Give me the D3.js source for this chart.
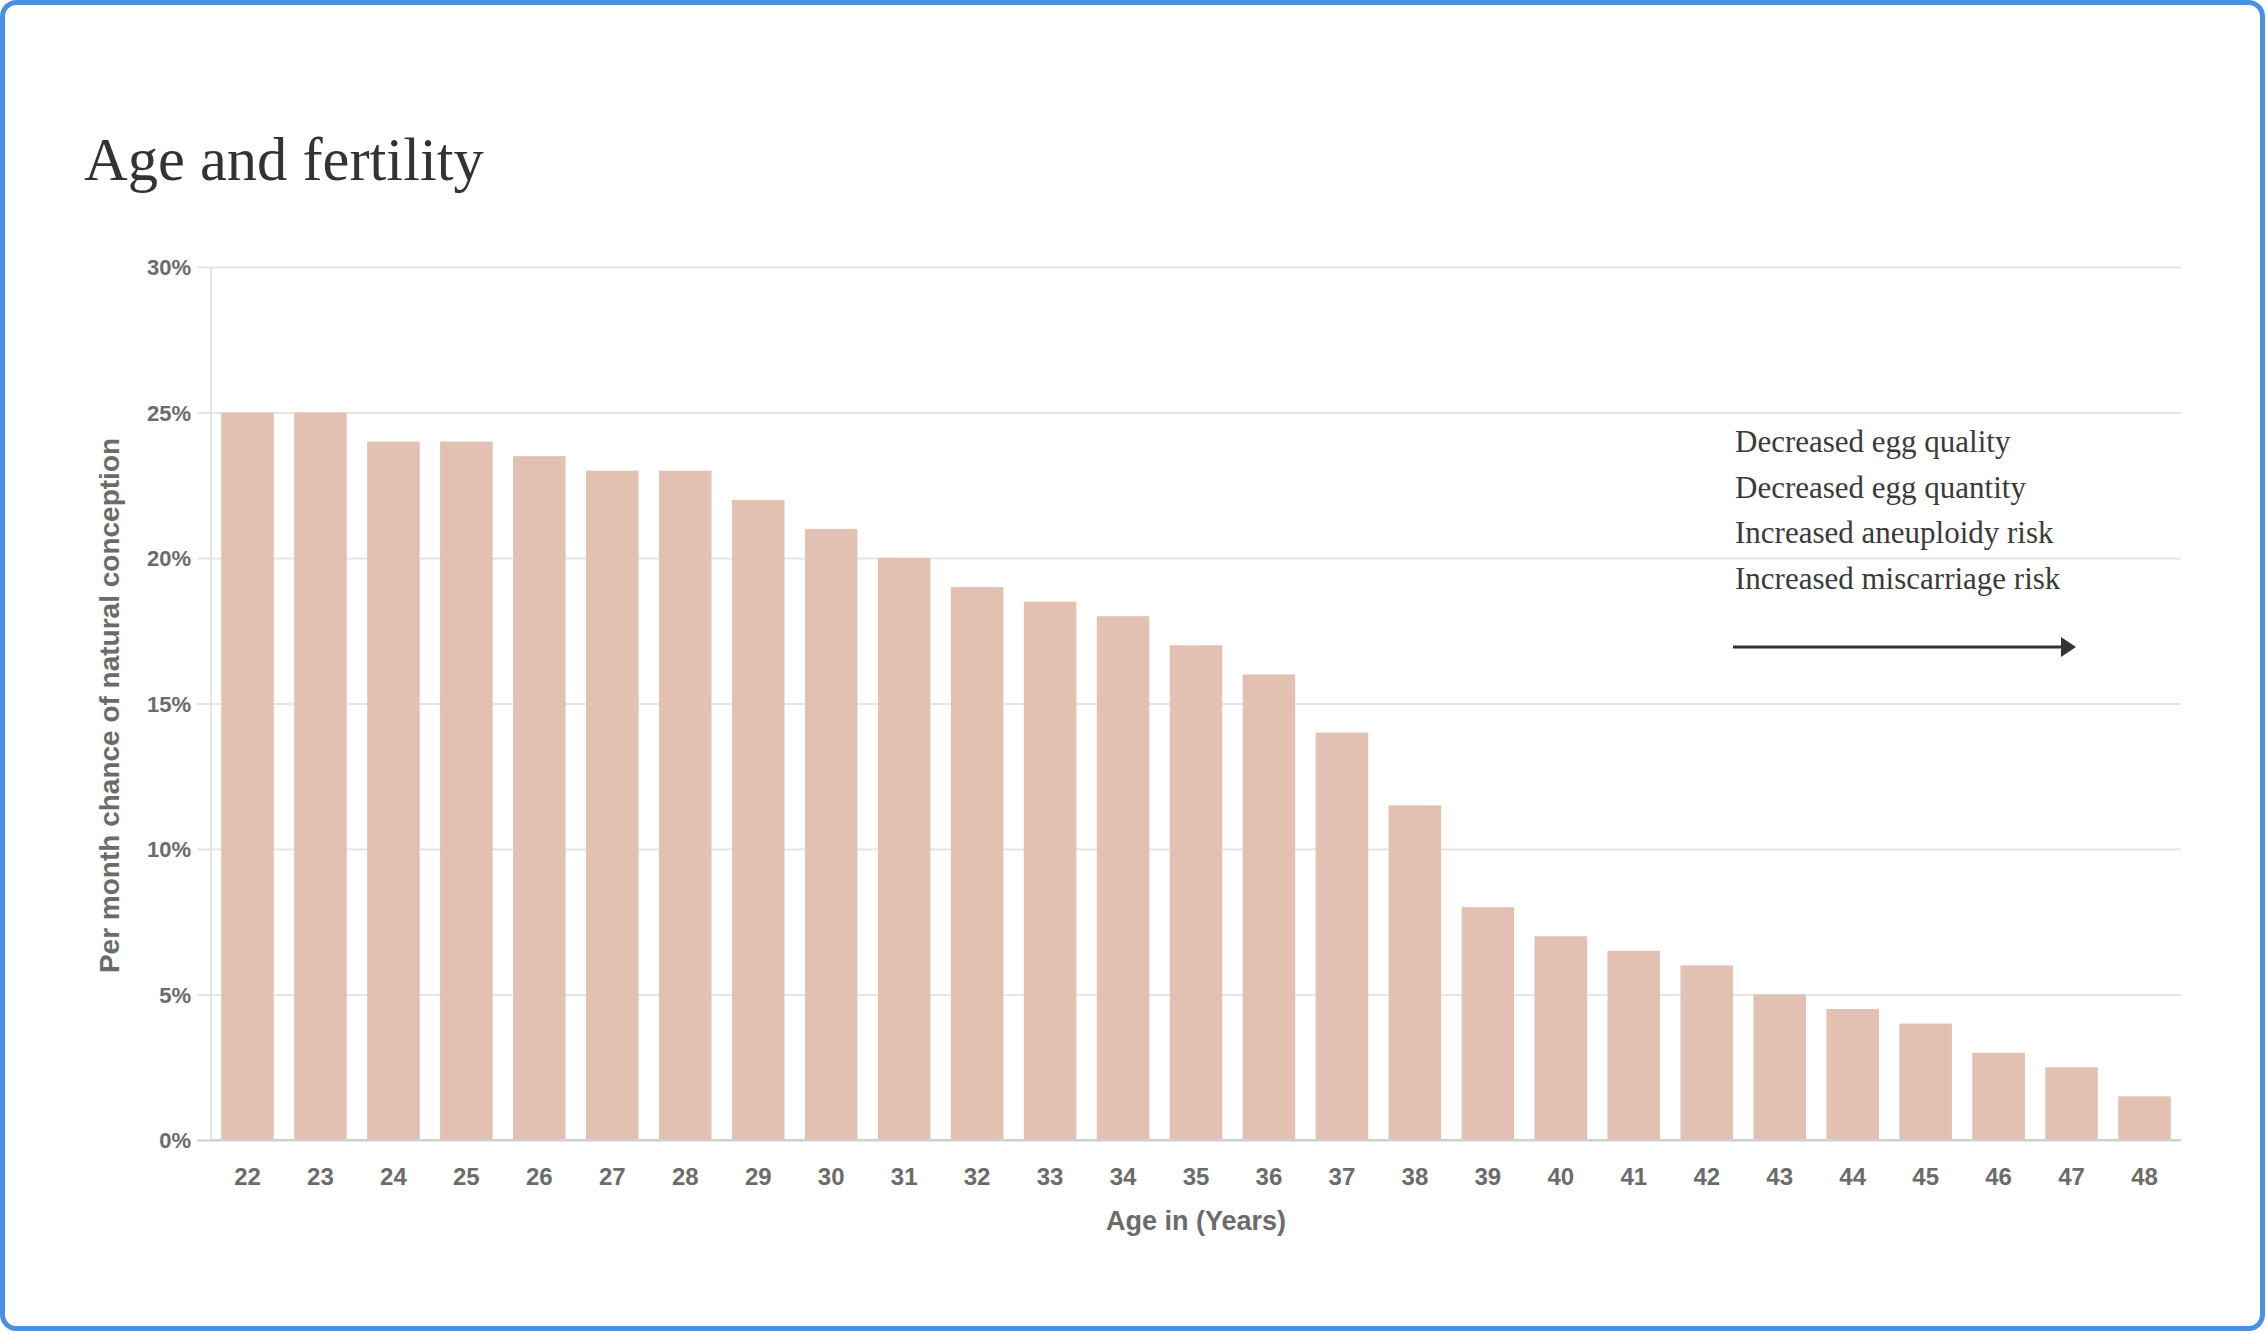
<!DOCTYPE html>
<html>
<head>
<meta charset="utf-8">
<script src="https://cdn.jsdelivr.net/npm/d3@7/dist/d3.min.js"></script>
<style>
  html, body { margin: 0; padding: 0; background: #fff; }
  svg { display: block; }
</style>
</head>
<body>
<svg id="chart" width="2266" height="1334"></svg>
<script>
// ---- data ----
const ages = ["22","23","24","25","26","27","28","29","30","31","32","33","34","35","36","37","38","39","40","41","42","43","44","45","46","47","48"];
const chance = [25, 25, 24, 24, 23.5, 23, 23, 22, 21, 20, 19, 18.5, 18, 17, 16, 14, 11.5, 8, 7, 6.5, 6, 5, 4.5, 4, 3, 2.5, 1.5];
const yTicks = [0, 5, 10, 15, 20, 25, 30];
const notes = ["Decreased egg quality", "Decreased egg quantity", "Increased aneuploidy risk", "Increased miscarriage risk"];
const titleText = "Age and fertility";
const xTitle = "Age in (Years)";
const yTitle = "Per month chance of natural conception";

// ---- layout ----
const W = 2266, H = 1334;
const plot = { left: 211, right: 2181, top: 267, bottom: 1140 };
const svg = d3.select("#chart");

// card border
svg.append("rect")
  .attr("x", 2.5).attr("y", 2.5)
  .attr("width", W - 6).attr("height", H - 8)
  .attr("rx", 14).attr("ry", 14)
  .attr("fill", "#fff")
  .attr("stroke", "#4a90e2")
  .attr("stroke-width", 5);

// title
svg.append("text")
  .attr("x", 84).attr("y", 180)
  .attr("font-family", "'Liberation Serif', 'DejaVu Serif', serif")
  .attr("font-size", 60.5)
  .attr("fill", "#333")
  .text(titleText);

const x = d3.scaleBand()
  .domain(ages)
  .range([plot.left, plot.right])
  .paddingInner(0.28)
  .paddingOuter(0.14);

const y = d3.scaleLinear()
  .domain([0, 30])
  .range([plot.bottom, plot.top]);

// y grid + labels
const gY = svg.append("g")
  .attr("transform", `translate(${plot.left - 14},0)`)
  .call(d3.axisRight(y)
    .tickValues(yTicks)
    .tickSize(plot.right - plot.left + 14)
    .tickFormat(d => d + "%"));
gY.select(".domain").remove();
gY.selectAll(".tick line")
  .attr("stroke", d => d === 0 ? "#d0d0d0" : "#e6e6e6")
  .attr("stroke-width", 2);
gY.selectAll(".tick text")
  .attr("x", -6)
  .attr("text-anchor", "end")
  .attr("dy", "0.35em")
  .attr("font-family", "'Liberation Sans', Arial, sans-serif")
  .attr("font-weight", "bold")
  .attr("font-size", 22)
  .attr("fill", "#6b6b6b");

// vertical axis line
svg.append("line")
  .attr("x1", plot.left).attr("x2", plot.left)
  .attr("y1", plot.top).attr("y2", plot.bottom)
  .attr("stroke", "#e3e3e3")
  .attr("stroke-width", 2);

// bars
svg.append("g").selectAll("rect")
  .data(ages.map((a, i) => ({ age: a, v: chance[i] })))
  .join("rect")
  .attr("x", d => x(d.age))
  .attr("y", d => y(d.v))
  .attr("width", x.bandwidth())
  .attr("height", d => y(0) - y(d.v) - 1)
  .attr("fill", "#e2c1b2");

// baseline on top
svg.append("line")
  .attr("x1", plot.left).attr("x2", plot.right)
  .attr("y1", y(0)).attr("y2", y(0))
  .attr("stroke", "#d0d0d0")
  .attr("stroke-width", 2);

// x axis labels
const gX = svg.append("g")
  .attr("transform", `translate(0,${plot.bottom})`)
  .call(d3.axisBottom(x).tickSize(0).tickPadding(0));
gX.select(".domain").remove();
gX.selectAll(".tick text")
  .attr("y", 45)
  .attr("dy", 0)
  .attr("font-family", "'Liberation Sans', Arial, sans-serif")
  .attr("font-weight", "bold")
  .attr("font-size", 24)
  .attr("fill", "#6b6b6b");

// axis titles
svg.append("text")
  .attr("x", (plot.left + plot.right) / 2)
  .attr("y", 1230)
  .attr("text-anchor", "middle")
  .attr("font-family", "'Liberation Sans', Arial, sans-serif")
  .attr("font-weight", "bold")
  .attr("font-size", 27)
  .attr("fill", "#6b6b6b")
  .text(xTitle);

svg.append("text")
  .attr("transform", `translate(119,${(plot.top + plot.bottom) / 2 + 2}) rotate(-90)`)
  .attr("text-anchor", "middle")
  .attr("font-family", "'Liberation Sans', Arial, sans-serif")
  .attr("font-weight", "bold")
  .attr("font-size", 28)
  .attr("fill", "#6b6b6b")
  .text(yTitle);

// annotations
svg.append("g").selectAll("text")
  .data(notes)
  .join("text")
  .attr("x", 1735)
  .attr("y", (d, i) => 452 + i * 45.5)
  .attr("font-family", "'Liberation Serif', 'DejaVu Serif', serif")
  .attr("font-size", 31)
  .attr("fill", "#3a3a3a")
  .text(d => d);

// arrow
svg.append("line")
  .attr("x1", 1733).attr("x2", 2064)
  .attr("y1", 647).attr("y2", 647)
  .attr("stroke", "#333")
  .attr("stroke-width", 3);
svg.append("path")
  .attr("d", d3.line()([[2061, 637], [2076, 647], [2061, 657]]) + "Z")
  .attr("fill", "#333");
</script>
</body>
</html>
